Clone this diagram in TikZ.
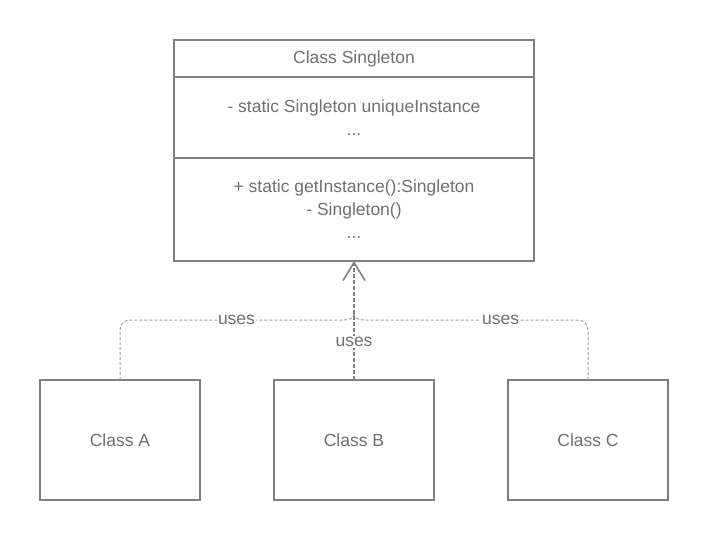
\documentclass[tikz,border=0pt]{standalone}
\usepackage{fontspec}
\setmainfont{Liberation Sans}
\usepackage{xcolor}
\usetikzlibrary{positioning, arrows.meta}

\definecolor{boxgray}{HTML}{808080}
\definecolor{textgray}{HTML}{707070}
\definecolor{lightgray}{HTML}{A0A0A0}

\tikzset{
  umlpart/.style={draw=boxgray, line width=1.6pt, minimum width=360pt, inner sep=0pt,
    outer sep=0pt, align=center, text=textgray, font=\fontsize{17.5}{23}\selectfont},
  classbox/.style={draw=boxgray, line width=1.6pt, minimum width=160pt, minimum height=120pt,
    outer sep=0pt, text=textgray, font=\fontsize{17.5}{20}\selectfont},
  usesline/.style={draw=lightgray, line width=1pt, dash pattern=on 3pt off 2pt},
  mainline/.style={draw=boxgray, line width=1.6pt, dash pattern=on 4pt off 2pt},
  uselabel/.style={fill=white, inner sep=1pt, text=textgray, font=\fontsize{17.5}{20}\selectfont}
}

\begin{document}
\begin{tikzpicture}[x=1pt, y=-1pt]
\useasboundingbox (0,0) rectangle (708,541);
% Singleton class
\node[umlpart, minimum height=37pt] (title) at (354,58.5) {Class Singleton};
\node[umlpart, minimum height=81pt, below=0pt of title] (attrs)
  {- static Singleton uniqueInstance\\...};
\node[umlpart, minimum height=103pt, below=0pt of attrs] (ops)
  {+ static getInstance():Singleton\\- Singleton()\\...};
% clients
\node[classbox] (a) at (120,440) {Class A};
\node[classbox] (b) at (354,440) {Class B};
\node[classbox] (c) at (588,440) {Class C};
% connectors
\coordinate (j) at (354,313);
\coordinate (jl) at (344,320);
\coordinate (jr) at (364,320);
\draw[usesline, rounded corners=10pt] (a.north) -- (a.north |- jl) -- node[uselabel, pos=0.52]{uses} (jl);
\draw[usesline] (jl) .. controls (350,320) and (354,318) .. (j);
\draw[usesline, rounded corners=10pt] (c.north) -- (c.north |- jr) -- node[uselabel, pos=0.39]{uses} (jr);
\draw[usesline] (jr) .. controls (358,320) and (354,318) .. (j);
\draw[mainline, -{Straight Barb[length=18pt, width=22pt, line width=1.6pt]}]
  (b.north) -- node[uselabel, pos=0.32]{uses} (ops.south);
\end{tikzpicture}
\end{document}
